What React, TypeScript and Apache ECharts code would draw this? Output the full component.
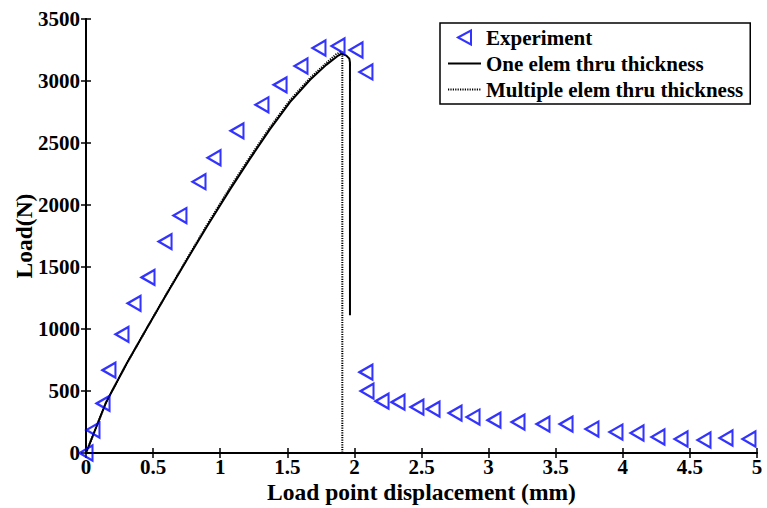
import React, { useEffect, useRef } from "react";
import * as echarts from "echarts";

// Experimental load–displacement readings (mm, N)
const expDisp = [
  0, 0.052, 0.127, 0.171, 0.268, 0.358, 0.462, 0.589, 0.7, 0.842, 0.954, 1.125,
  1.311, 1.446, 1.602, 1.736, 1.878, 2.012, 2.086, 2.086, 2.094, 2.206, 2.325,
  2.466, 2.586, 2.75, 2.884, 3.04, 3.219, 3.405, 3.577, 3.77, 3.949, 4.106,
  4.262, 4.434, 4.605, 4.769, 4.94,
];
const expLoad = [
  0, 185, 400, 668, 957, 1207, 1416, 1705, 1915, 2188, 2381, 2598, 2808, 2969,
  3121, 3266, 3282, 3250, 3073, 652, 499, 418, 410, 370, 354, 322, 290, 265,
  249, 233, 233, 193, 169, 161, 129, 113, 105, 121, 113,
];

// Simulation: one element through the thickness
const oneDisp = [
  0, 0.15, 0.3, 0.45, 0.6, 0.75, 0.9, 1.07, 1.22, 1.37, 1.52, 1.67, 1.79, 1.88,
  1.905, 1.94, 1.962, 1.967, 1.967,
];
const oneLoad = [
  0, 410, 715, 1000, 1280, 1555, 1825, 2120, 2370, 2610, 2830, 3010, 3130, 3205,
  3221, 3205, 3180, 3150, 1110,
];

// Simulation: multiple elements through the thickness
const multiDisp = [
  0, 0.15, 0.3, 0.45, 0.6, 0.75, 0.9, 1.07, 1.22, 1.37, 1.52, 1.67, 1.79, 1.86,
  1.893, 1.905, 1.91, 1.91,
];
const multiLoad = [
  0, 410, 715, 1000, 1283, 1562, 1837, 2135, 2385, 2625, 2845, 3025, 3145, 3212,
  3232, 3225, 3200, 0,
];

const xTicks = { min: 0, max: 5, interval: 0.5 };
const yTicks = { min: 0, max: 3500, interval: 500 };

const pairs = (xs: number[], ys: number[]) => xs.map((x, i) => [x, ys[i]]);

const FONT = "'Liberation Serif', 'Times New Roman', serif";
const triangle = "path://M0,7 L13,0 L13,14 Z";

export default function App() {
  const ref = useRef<HTMLDivElement>(null);

  useEffect(() => {
    if (!ref.current) return;
    const chart = echarts.init(ref.current, undefined, { renderer: "svg" });

    const axisLine = { show: true, lineStyle: { color: "#000", width: 2 } };
    const axisTick = { show: true, inside: true, length: 5, lineStyle: { color: "#000", width: 1.5 } };
    const label = { fontFamily: FONT, fontWeight: "bold" as const, fontSize: 21, color: "#000" };
    const title = { fontFamily: FONT, fontWeight: "bold" as const, fontSize: 23.5, color: "#000" };

    chart.setOption({
      animation: false,
      backgroundColor: "#fff",
      grid: { left: 86, right: 10, top: 19, bottom: 55, containLabel: false, outerBoundsMode: "none" },
      xAxis: [
        {
          type: "value",
          ...xTicks,
          position: "bottom",
          axisLine,
          axisTick,
          splitLine: { show: false },
          axisLabel: { ...label, margin: 3, formatter: (v: number) => String(v) },
          name: "Load point displacement (mm)",
          nameLocation: "middle",
          nameGap: 27,
          nameMoveOverlap: false,
          nameTextStyle: title,
        },
        {
          type: "value",
          ...xTicks,
          position: "top",
          axisLine,
          axisTick,
          splitLine: { show: false },
          axisLabel: { show: false },
        },
      ],
      yAxis: [
        {
          type: "value",
          ...yTicks,
          position: "left",
          axisLine,
          axisTick,
          splitLine: { show: false },
          axisLabel: { ...label, margin: 6, formatter: (v: number) => String(v) },
          name: "Load(N)",
          nameLocation: "middle",
          nameGap: 50,
          nameMoveOverlap: false,
          nameTextStyle: title,
        },
        {
          type: "value",
          ...yTicks,
          position: "right",
          axisLine,
          axisTick,
          splitLine: { show: false },
          axisLabel: { show: false },
        },
      ],
      legend: {
        orient: "vertical",
        left: 440,
        top: 23,
        padding: [4, 7, 4, 7],
        itemGap: 5,
        itemWidth: 33,
        itemHeight: 14,
        backgroundColor: "#fff",
        borderColor: "#000",
        borderWidth: 1.5,
        borderRadius: 0,
        textStyle: { fontFamily: FONT, fontWeight: "bold", fontSize: 21, color: "#000", lineHeight: 20 },
        data: [
          { name: "Experiment" },
          { name: "One elem thru thickness", itemStyle: { opacity: 0 } },
          { name: "Multiple elem thru thickness", itemStyle: { opacity: 0 } },
        ],
      },
      series: [
        {
          name: "One elem thru thickness",
          type: "line",
          xAxisIndex: 0,
          yAxisIndex: 0,
          data: pairs(oneDisp, oneLoad),
          showSymbol: false,
          symbol: "none",
          lineStyle: { color: "#000", width: 2, type: "solid" },
          itemStyle: { color: "#000" },
          z: 2,
        },
        {
          name: "Multiple elem thru thickness",
          type: "line",
          xAxisIndex: 0,
          yAxisIndex: 0,
          data: pairs(multiDisp, multiLoad),
          showSymbol: false,
          symbol: "none",
          lineStyle: { color: "#000", width: 2, type: [1.2, 1.2] },
          itemStyle: { color: "#000" },
          z: 3,
        },
        {
          name: "Experiment",
          type: "scatter",
          xAxisIndex: 0,
          yAxisIndex: 0,
          data: pairs(expDisp, expLoad),
          symbol: triangle,
          symbolSize: [13, 15],
          itemStyle: { color: "rgba(0,0,0,0)", borderColor: "#0000ff", borderWidth: 2.2 },
          z: 4,
        },
      ],
    });

    return () => chart.dispose();
  }, []);

  return (
    <div
      ref={ref}
      style={{ position: "fixed", left: 0, top: 0, width: 767, height: 508, background: "#fff" }}
    />
  );
}
